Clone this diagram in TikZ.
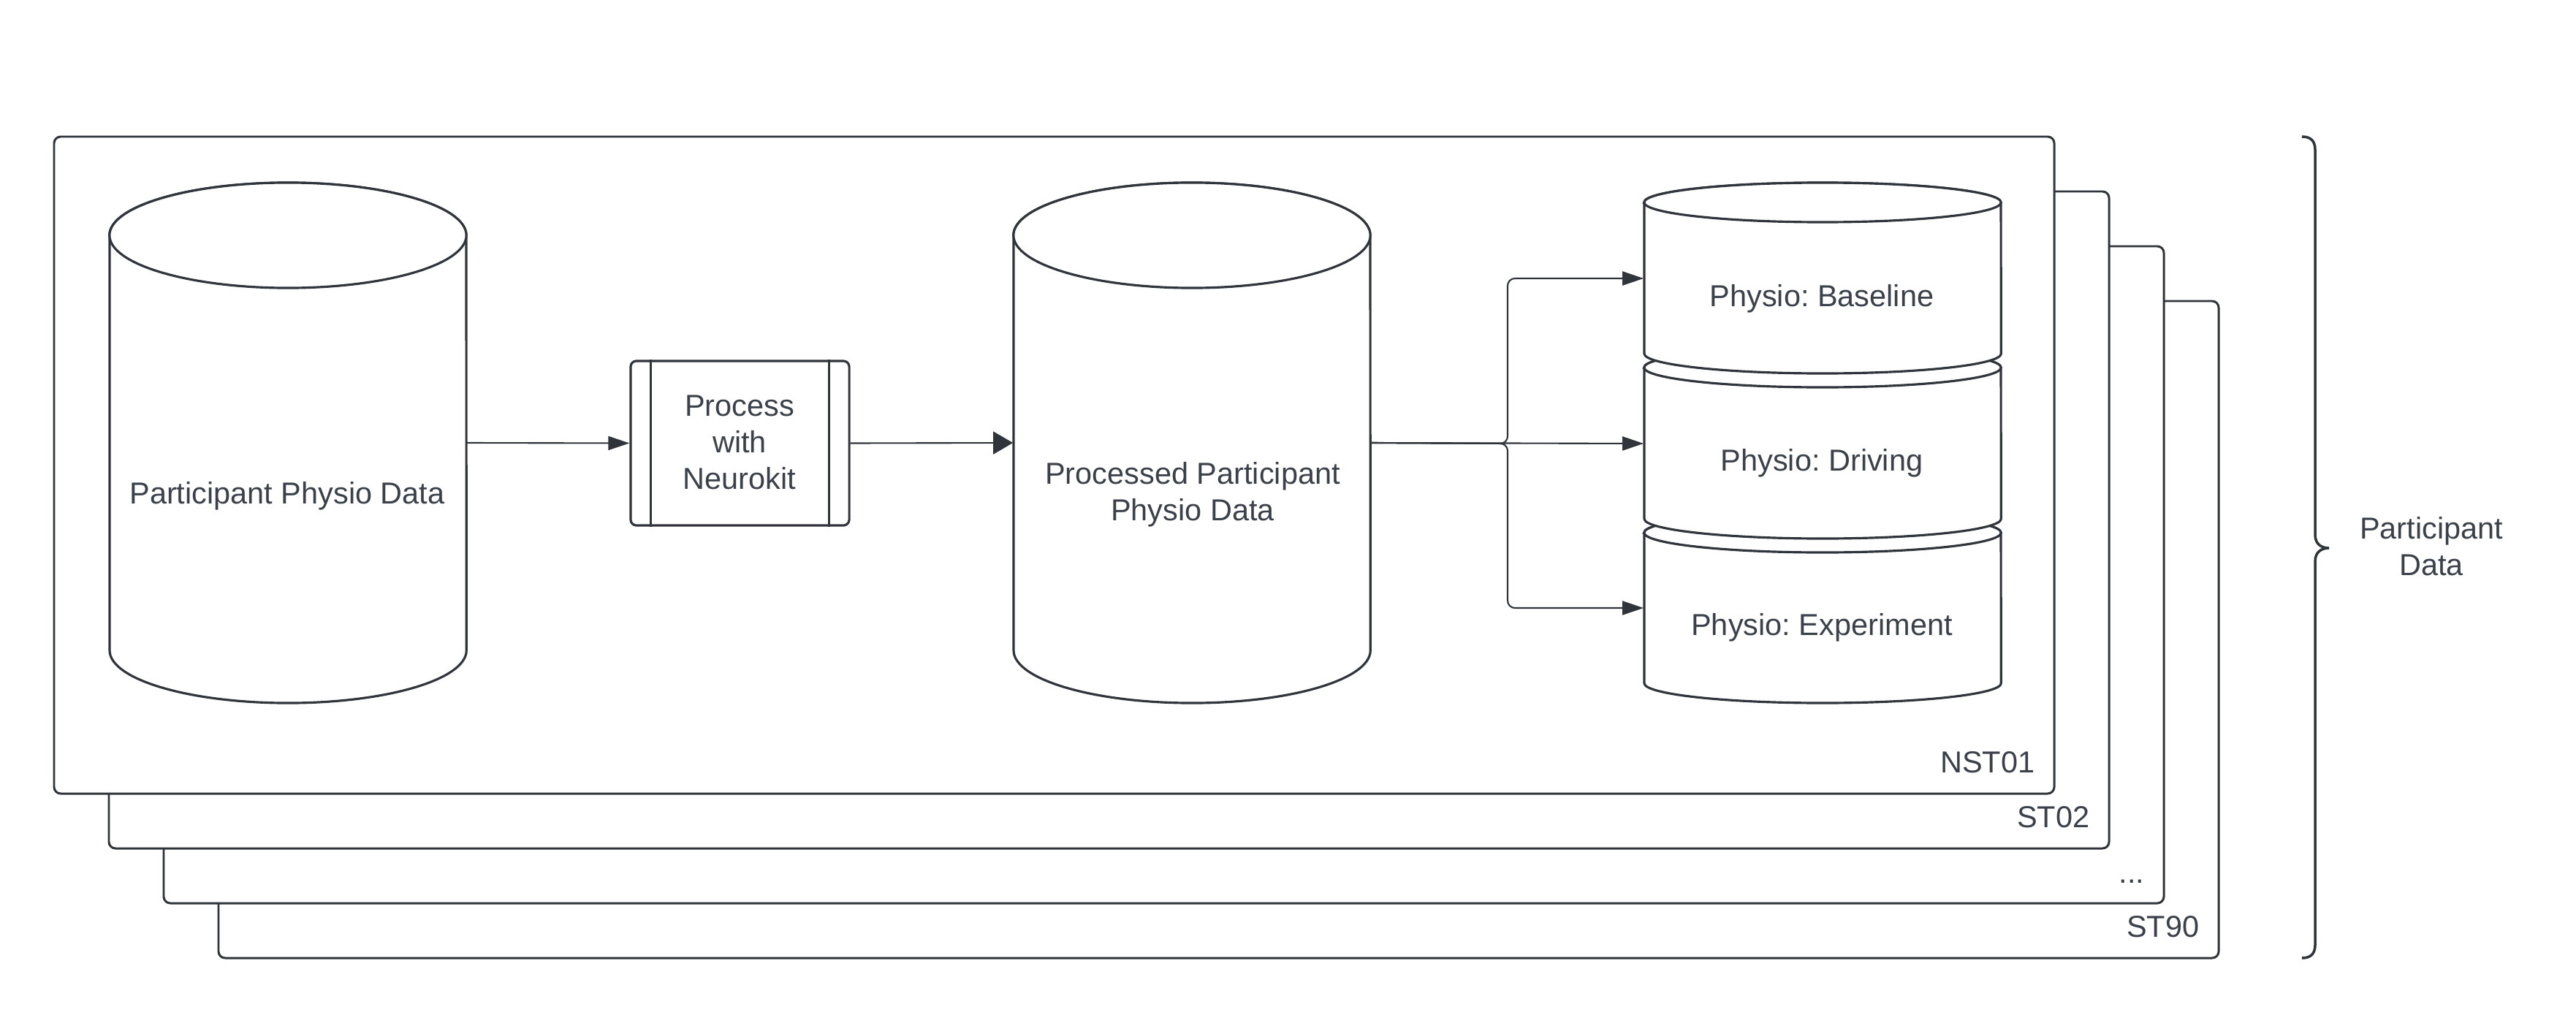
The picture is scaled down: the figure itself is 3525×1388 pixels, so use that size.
\documentclass[tikz,border=0pt]{standalone}
\usepackage{fontspec}
\setmainfont{Liberation Sans}
\usetikzlibrary{arrows.meta}
\definecolor{linec}{HTML}{30343B}
\definecolor{textc}{HTML}{3A414A}
\frenchspacing
\begin{document}
\begin{tikzpicture}[x=0.01cm,y=-0.01cm,
  txt/.style={font=\frenchspacing\fontsize{11.8}{14.2}\selectfont, text=textc, align=center, inner sep=0pt},
  frame/.style={draw=linec, line width=0.85pt, fill=white, rounded corners=0.09cm},
  shp/.style={draw=linec, line width=0.9pt, fill=white},
  body/.style={inner sep=0pt, minimum width=4.88cm},
  arr/.style={draw=linec, line width=0.6pt, -{Triangle[length=0.29cm,width=0.19cm]}, color=linec},
  bigarr/.style={draw=linec, line width=0.6pt, -{Triangle[length=0.27cm,width=0.31cm]}, color=linec},
  brace/.style={draw=linec, line width=1pt}
]
\useasboundingbox (0,0) rectangle (3525,1388);

% stacked frames
\draw[frame] (299,412) rectangle (3036,1311);
\node[txt, anchor=base east] (l90) at (3010,1282) {ST90};
\draw[frame] (224,337) rectangle (2961,1236);
\node[txt, anchor=base east] (ldots) at (2935,1208) {...};
\draw[frame] (149,262) rectangle (2886,1161);
\node[txt, anchor=base east] (l02) at (2860,1132) {ST02};
\draw[frame] (74,187) rectangle (2811,1086);
\node[txt, anchor=base east] (l01) at (2785,1057) {NST01};

% raw data cylinder
\filldraw[shp] (150,322) -- (150,890) arc[start angle=180, end angle=360, x radius=2.44cm, y radius=0.72cm]
  -- (638,322) arc[start angle=0, end angle=180, x radius=2.44cm, y radius=0.72cm] -- cycle;
\draw[shp] (394,322) ellipse[x radius=2.44cm, y radius=0.72cm];
\node[body, minimum height=7.12cm] (raw) at (394,606) {};
\node[txt] (rawt) at (393,679) {Participant Physio Data};

% processed data cylinder
\filldraw[shp] (1387,322) -- (1387,890) arc[start angle=180, end angle=360, x radius=2.44cm, y radius=0.72cm]
  -- (1875,322) arc[start angle=0, end angle=180, x radius=2.44cm, y radius=0.72cm] -- cycle;
\draw[shp] (1631,322) ellipse[x radius=2.44cm, y radius=0.72cm];
\node[body, minimum height=7.12cm] (procd) at (1631,606) {};
\node[txt] (procdt) at (1632,677) {Processed Participant\\Physio Data};

% process box
\node[shp, rounded corners=0.08cm, minimum width=2.99cm, minimum height=2.25cm, inner sep=0pt] (proc) at (1012.5,606.5) {};
\draw[linec, line width=0.9pt] ([xshift=0.29cm]proc.north west) -- ([xshift=0.29cm]proc.south west);
\draw[linec, line width=0.9pt] ([xshift=-0.29cm]proc.north east) -- ([xshift=-0.29cm]proc.south east);
\node[txt] (proct) at (1012,605) {Process\\with\\Neurokit};

% stacked cylinders (bottom first)
\filldraw[shp] (2250,729) -- (2250,935) arc[start angle=180, end angle=360, x radius=2.44cm, y radius=0.27cm]
  -- (2738,729) arc[start angle=0, end angle=180, x radius=2.44cm, y radius=0.27cm] -- cycle;
\draw[shp] (2494,729) ellipse[x radius=2.44cm, y radius=0.27cm];
\filldraw[shp] (2250,503) -- (2250,710) arc[start angle=180, end angle=360, x radius=2.44cm, y radius=0.27cm]
  -- (2738,503) arc[start angle=0, end angle=180, x radius=2.44cm, y radius=0.27cm] -- cycle;
\draw[shp] (2494,503) ellipse[x radius=2.44cm, y radius=0.27cm];
\filldraw[shp] (2250,277) -- (2250,484) arc[start angle=180, end angle=360, x radius=2.44cm, y radius=0.27cm]
  -- (2738,277) arc[start angle=0, end angle=180, x radius=2.44cm, y radius=0.27cm] -- cycle;
\draw[shp] (2494,277) ellipse[x radius=2.44cm, y radius=0.27cm];

\node[body, minimum height=2.07cm] (base) at (2494,381) {};
\node[body, minimum height=2.07cm] (drive) at (2494,607) {};
\node[body, minimum height=2.07cm] (expt) at (2494,832) {};
\node[txt] (baset) at (2493,409) {Physio: Baseline};
\node[txt] (drivet) at (2493,634) {Physio: Driving};
\node[txt] (exptt) at (2493,859) {Physio: Experiment};

% connectors
\draw[arr] (raw.east) -- (proc.west);
\draw[bigarr] (proc.east) -- (procd.west);
\coordinate (split) at (2063,607);
\draw[arr, rounded corners=0.1cm] (procd.east) -- (split) |- (base.west);
\draw[arr] (procd.east) -- (drive.west);
\draw[arr, rounded corners=0.1cm] (procd.east) -- (split) |- (expt.west);

% brace
\draw[brace] (3150,187) .. controls (3162,187) and (3168,193) .. (3168,205) -- (3168,732)
  .. controls (3168,744) and (3176,750) .. (3187,750)
  .. controls (3176,750) and (3168,756) .. (3168,768) -- (3168,1293)
  .. controls (3168,1305) and (3162,1311) .. (3150,1311);
\node[txt] (pdata) at (3327,748) {Participant\\Data};
\end{tikzpicture}
\end{document}
